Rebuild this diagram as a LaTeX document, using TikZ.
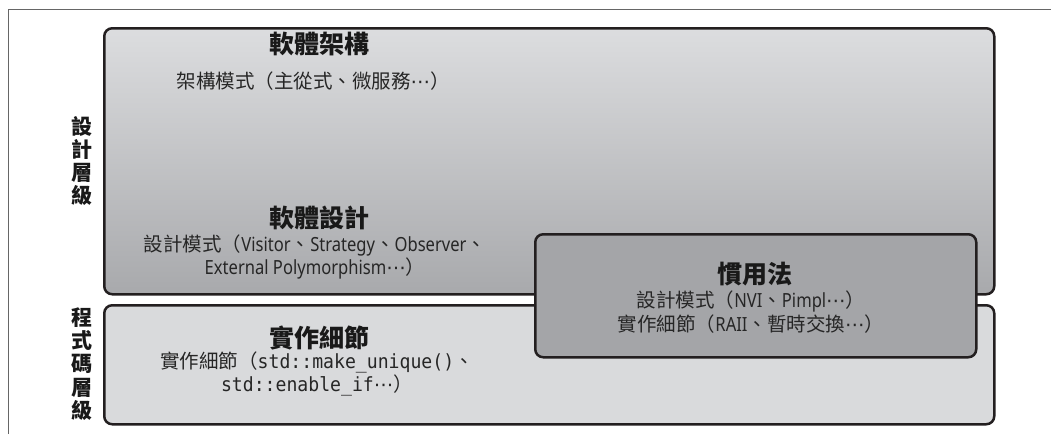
\documentclass[tikz,border=0pt]{standalone}
\usepackage{fontspec}
\setmainfont{Noto Sans CJK TC}
\newfontfamily\lat{Noto Sans}[FakeStretch=0.85]
\newfontfamily\dvs{DejaVu Sans}
\setmonofont{DejaVu Sans Mono}[FakeStretch=0.93]
\newcommand\cdts{{\dvs ⋯}}
\usetikzlibrary{shadings}
\definecolor{edge}{HTML}{231F20}
\definecolor{lite}{HTML}{DCDDDF}
\definecolor{dark}{HTML}{A8A9AC}
\definecolor{idiom}{HTML}{A4A5A8}
\definecolor{code}{HTML}{D9DADC}
\begin{document}
\begin{tikzpicture}[x=1pt,y=-1pt,
  layer/.style={draw=edge,line width=2.5pt,rounded corners=8pt},
  ttl/.style={font=\fontsize{25}{28}\selectfont\bfseries,text=black!90,inner sep=0pt},
  sub/.style={font=\fontsize{19.5}{23.5}\selectfont,text=black!85,inner sep=0pt,align=center},
  side/.style={font=\fontsize{21}{23.3}\selectfont\bfseries,text=black!90,inner sep=0pt,align=center}]
\useasboundingbox (0,0) rectangle (1051,434);
\draw[black!60,line width=0.9pt] (8,434) -- (8,9) -- (1051,9);
% boxes
\node[layer,minimum width=890pt,minimum height=266pt,top color=lite,bottom color=dark,anchor=north west] (design) at (103,27) {};
\node[layer,minimum width=890pt,minimum height=119pt,fill=code,anchor=north west] (impl) at (103,304) {};
\node[layer,minimum width=441pt,minimum height=123pt,fill=idiom,anchor=north west] (idioms) at (534,233) {};
% side labels
\node[side] (lblD) at (82,161) {設\\計\\層\\級};
\node[side] (lblC) at (82,364) {程\\式\\碼\\層\\級};
% texts
\node[ttl] (archT) at (319,44) {軟體架構};
\node[sub] (archS) at (313,81) {架構模式（主從式、微服務\cdts）};
\node[ttl] (desT) at (319,218) {軟體設計};
\node[sub] (desS) at (315,257) {設計模式（{\lat Visitor}、{\lat Strategy}、{\lat Observer}、\\{\lat External Polymorphism}\cdts）};
\node[ttl] (impT) at (319,338) {實作細節};
\node[sub] (impS) at (317,374) {實作細節（\texttt{std::make\_unique()}、\\\texttt{std::enable\_if}\cdts）};
\node[ttl] (idT) at (755,274) {慣用法};
\node[sub] (idS) at (751,312) {設計模式（{\lat NVI}、{\lat Pimpl}\cdts）\\實作細節（{\lat RAII}、暫時交換\cdts）};
\end{tikzpicture}
\end{document}
